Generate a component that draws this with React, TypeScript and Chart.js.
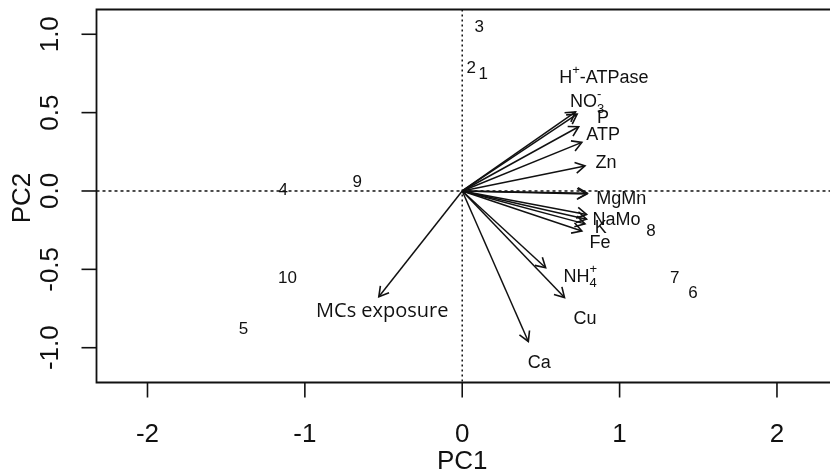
import React, { useEffect, useRef } from "react";
import { Chart, registerables } from "chart.js";

Chart.register(...registerables);

// Sample scores (PC1, PC2)
const sampleIds = ["1", "2", "3", "4", "5", "6", "7", "8", "9", "10"];
const samplePC1 = [0.133, 0.057, 0.108, -1.137, -1.39, 1.467, 1.35, 1.2, -0.667, -1.11];
const samplePC2 = [0.745, 0.78, 1.045, 0.006, -0.885, -0.656, -0.555, -0.26, 0.057, -0.555];

// Variable loadings (arrow tips)
const loadingNames = ["H+-ATPase", "NO3-", "P", "ATP", "Zn", "Mg", "Mn", "Na", "Mo", "K", "Fe", "NH4+", "Cu", "Ca", "MCs exposure"];
const loadingPC1 = [0.72, 0.73, 0.74, 0.76, 0.78, 0.79, 0.795, 0.79, 0.79, 0.78, 0.76, 0.53, 0.65, 0.42, -0.53];
const loadingPC2 = [0.505, 0.49, 0.41, 0.31, 0.16, -0.02, -0.015, -0.15, -0.18, -0.21, -0.255, -0.49, -0.68, -0.96, -0.675];

// Variable label texts and their positions
const labelTexts = ["H^{+}-ATPase", "NO_{3}^{-}", "P", "ATP", "Zn", "MgMn", "NaMo", "K", "Fe", "NH_{4}^{+}", "Cu", "Ca", "MCs exposure"];
const labelPC1 = [0.9, 0.794, 0.895, 0.895, 0.914, 1.01, 0.98, 0.88, 0.876, 0.75, 0.78, 0.49, -0.508];
const labelPC2 = [0.72, 0.567, 0.465, 0.357, 0.178, -0.05, -0.185, -0.236, -0.33, -0.548, -0.82, -1.095, -0.77];

// Axis ticks
const xTicks = [-2, -1, 0, 1, 2];
const xTickLabels = ["-2", "-1", "0", "1", "2"];
const yTicks = [-1, -0.5, 0, 0.5, 1];
const yTickLabels = ["-1.0", "-0.5", "0.0", "0.5", "1.0"];
const xTitle = "PC1";
const yTitle = "PC2";

const INK = "#111";
const SANS = "'Liberation Sans', Arial, sans-serif";

type Part = { t: string; kind: "n" | "sub" | "sup" };

function parseLabel(s: string): Part[] {
  const parts: Part[] = [];
  const re = /(_\{([^}]*)\})|(\^\{([^}]*)\})|([^_^]+)/g;
  let m: RegExpExecArray | null;
  while ((m = re.exec(s))) {
    if (m[2] !== undefined) parts.push({ t: m[2], kind: "sub" });
    else if (m[4] !== undefined) parts.push({ t: m[4], kind: "sup" });
    else parts.push({ t: m[5], kind: "n" });
  }
  return parts;
}

function drawRich(ctx: CanvasRenderingContext2D, s: string, cx: number, cy: number, size: number, family: string) {
  const parts = parseLabel(s);
  const small = Math.round(size * 0.7);
  const widths: number[] = [];
  for (let i = 0; i < parts.length; i++) {
    const p = parts[i];
    ctx.font = `${p.kind === "n" ? size : small}px ${family}`;
    widths.push(ctx.measureText(p.t).width);
  }
  const adv: number[] = [];
  let total = 0;
  for (let i = 0; i < parts.length; i++) {
    let a = widths[i];
    if (parts[i].kind === "sub" && parts[i + 1] && parts[i + 1].kind === "sup") a = 0;
    if (parts[i].kind === "sup" && i > 0 && parts[i - 1].kind === "sub") a = Math.max(widths[i], widths[i - 1]);
    adv.push(a);
    total += a;
  }
  let x = cx - total / 2;
  ctx.textBaseline = "middle";
  ctx.textAlign = "left";
  for (let i = 0; i < parts.length; i++) {
    const p = parts[i];
    ctx.font = `${p.kind === "n" ? size : small}px ${family}`;
    let y = cy;
    if (p.kind === "sub") y = cy + size * 0.38;
    if (p.kind === "sup") y = cy - size * 0.42;
    ctx.fillText(p.t, x, y);
    x += adv[i];
  }
}

const biplotPlugin = {
  id: "biplot",
  beforeDatasetsDraw(chart: any) {
    const { ctx, chartArea, scales } = chart;
    const sx = scales.x, sy = scales.y;
    ctx.save();
    ctx.strokeStyle = INK;
    ctx.lineWidth = 1.5;
    ctx.setLineDash([2, 3]);
    const x0 = sx.getPixelForValue(0);
    const y0 = sy.getPixelForValue(0);
    ctx.beginPath();
    ctx.moveTo(x0, chartArea.top);
    ctx.lineTo(x0, chartArea.bottom);
    ctx.stroke();
    ctx.setLineDash([3, 3]);
    ctx.beginPath();
    ctx.moveTo(chartArea.left, y0);
    ctx.lineTo(chartArea.right + 10, y0);
    ctx.stroke();
    ctx.restore();
  },
  afterDatasetsDraw(chart: any) {
    const { ctx, chartArea, scales } = chart;
    const sx = scales.x, sy = scales.y;
    ctx.save();
    ctx.fillStyle = INK;
    ctx.strokeStyle = INK;

    // arrowheads
    ctx.lineWidth = 1.6;
    ctx.setLineDash([]);
    const ox = sx.getPixelForValue(0), oy = sy.getPixelForValue(0);
    for (let i = 0; i < loadingPC1.length; i++) {
      const tx = sx.getPixelForValue(loadingPC1[i]);
      const ty = sy.getPixelForValue(loadingPC2[i]);
      const ang = Math.atan2(ty - oy, tx - ox);
      const L = 11, a = Math.PI / 6;
      ctx.beginPath();
      ctx.moveTo(tx - L * Math.cos(ang - a), ty - L * Math.sin(ang - a));
      ctx.lineTo(tx, ty);
      ctx.lineTo(tx - L * Math.cos(ang + a), ty - L * Math.sin(ang + a));
      ctx.stroke();
    }

    // sample labels
    ctx.font = `17px ${SANS}`;
    ctx.textAlign = "center";
    ctx.textBaseline = "middle";
    for (let i = 0; i < sampleIds.length; i++) {
      ctx.fillText(sampleIds[i], sx.getPixelForValue(samplePC1[i]), sy.getPixelForValue(samplePC2[i]));
    }

    // variable labels
    for (let i = 0; i < labelTexts.length; i++) {
      const isMC = labelTexts[i] === "MCs exposure";
      const fam = isMC ? "'Open Sans', 'Noto Sans', sans-serif" : SANS;
      drawRich(ctx, labelTexts[i], sx.getPixelForValue(labelPC1[i]), sy.getPixelForValue(labelPC2[i]), isMC ? 20 : 18, fam);
    }

    // box (top, left, bottom)
    ctx.lineWidth = 1.8;
    ctx.beginPath();
    ctx.moveTo(chartArea.right + 10, chartArea.top);
    ctx.lineTo(chartArea.left, chartArea.top);
    ctx.lineTo(chartArea.left, chartArea.bottom);
    ctx.lineTo(chartArea.right + 10, chartArea.bottom);
    ctx.stroke();

    // x ticks
    ctx.lineWidth = 1.6;
    ctx.font = `26px ${SANS}`;
    ctx.textAlign = "center";
    ctx.textBaseline = "middle";
    for (let i = 0; i < xTicks.length; i++) {
      const px = sx.getPixelForValue(xTicks[i]);
      ctx.beginPath();
      ctx.moveTo(px, chartArea.bottom);
      ctx.lineTo(px, chartArea.bottom + 15);
      ctx.stroke();
      ctx.fillText(xTickLabels[i], px, chartArea.bottom + 52);
    }
    ctx.fillText(xTitle, sx.getPixelForValue(0), chartArea.bottom + 79);

    // y ticks
    for (let i = 0; i < yTicks.length; i++) {
      const py = sy.getPixelForValue(yTicks[i]);
      ctx.beginPath();
      ctx.moveTo(chartArea.left, py);
      ctx.lineTo(chartArea.left - 15, py);
      ctx.stroke();
      ctx.save();
      ctx.translate(chartArea.left - 46, py);
      ctx.rotate(-Math.PI / 2);
      ctx.fillText(yTickLabels[i], 0, 0);
      ctx.restore();
    }
    ctx.save();
    ctx.translate(chartArea.left - 74, sy.getPixelForValue(-0.045));
    ctx.rotate(-Math.PI / 2);
    ctx.fillText(yTitle, 0, 0);
    ctx.restore();

    ctx.restore();
  },
};

export default function App() {
  const ref = useRef<HTMLCanvasElement | null>(null);
  useEffect(() => {
    document.body.style.margin = "0";
    document.body.style.background = "#fff";
    const canvas = ref.current!;
    const arrowSets = loadingNames.map((name, i) => ({
      label: name,
      data: [
        { x: 0, y: 0 },
        { x: loadingPC1[i], y: loadingPC2[i] },
      ],
      showLine: true,
      borderColor: INK,
      borderWidth: 1.5,
      pointRadius: 0,
      fill: false,
    }));
    const chart = new Chart(canvas, {
      type: "scatter",
      data: { datasets: arrowSets as any },
      options: {
        animation: false,
        responsive: false,
        maintainAspectRatio: false,
        layout: { padding: { left: 96.5, top: 9.5, right: 0, bottom: 88.5 } },
        plugins: { legend: { display: false }, tooltip: { enabled: false } },
        scales: {
          x: { type: "linear", min: -2.324, max: 2.337, display: false },
          y: { type: "linear", min: -1.222, max: 1.158, display: false },
        },
      },
      plugins: [biplotPlugin],
    });
    return () => chart.destroy();
  }, []);
  return (
    <div style={{ width: 830, height: 471, background: "#fff" }}>
      <canvas ref={ref} width={830} height={471} style={{ width: 830, height: 471, display: "block" }} />
    </div>
  );
}
